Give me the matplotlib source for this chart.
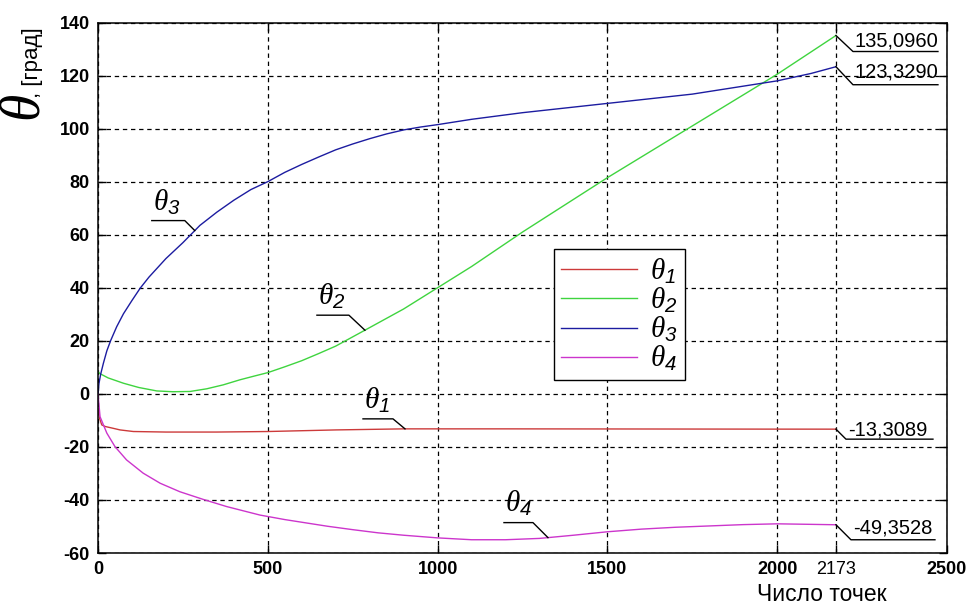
import numpy as np
import matplotlib
matplotlib.use("Agg")
from matplotlib import pyplot as plt
from matplotlib.transforms import ScaledTranslation

plt.rcParams['font.family'] = ['Liberation Sans', 'DejaVu Sans']
plt.rcParams['mathtext.fontset'] = 'custom'
plt.rcParams['mathtext.it'] = 'Liberation Serif:italic'
plt.rcParams['mathtext.rm'] = 'Liberation Serif'
plt.rcParams['mathtext.sf'] = 'Liberation Sans:italic'
plt.rcParams['axes.unicode_minus'] = False

# --- data ---
x1 = [0, 4, 11, 21, 45, 65, 104, 200, 350, 500, 700, 900, 1200, 1600, 2000, 2173]
th1 = [-5.5, -9.0, -11.7, -12.3, -13.0, -13.6, -14.2, -14.4, -14.4, -14.2, -13.6, -13.2, -13.2, -13.25, -13.3, -13.3089]

x2 = [0, 6, 30, 75, 120, 173, 220, 271, 320, 369, 418, 460, 500, 550, 600, 650, 700, 786, 900, 1000,
      1100, 1250, 1500, 1750, 2000, 2173]
th2 = [8.3, 7.6, 6.0, 4.0, 2.4, 1.1, 0.8, 0.9, 1.9, 3.4, 5.3, 6.7, 8.0, 10.2, 12.5, 15.2, 18.0, 24.0, 32.0, 40.0,
       48.0, 61.0, 81.5, 101.0, 120.5, 135.096]

x3 = [0, 3, 8, 16, 26, 37, 55, 75, 100, 124, 150, 200, 250, 300, 350, 400, 450, 500, 550,
      600, 650, 700, 750, 800, 850, 900, 950, 1000, 1100, 1250, 1500, 1750, 2000, 2100, 2173]
th3 = [0, 4, 7.5, 11.6, 16.2, 20, 25.3, 30.2, 35.2, 39.8, 44, 51, 57, 63.5, 68.5, 73, 77, 80, 83.5,
       86.5, 89.3, 92, 94.2, 96.2, 98, 99.5, 100.6, 101.5, 103.5, 106, 109.5, 113, 118, 120.8, 123.329]

x4 = [0, 6, 26, 50, 84, 133, 183, 241, 310, 379, 477, 550, 600, 675, 750, 825, 900, 1000, 1100, 1200,
      1300, 1400, 1500, 1600, 1700, 1800, 1900, 2000, 2100, 2173]
th4 = [0, -8.6, -14.8, -19.9, -24.9, -29.9, -33.7, -36.9, -39.8, -42.5, -45.7, -47.4, -48.4, -49.9, -51.2,
       -52.4, -53.3, -54.3, -55.0, -55.0, -54.5, -53.3, -52.0, -51.0, -50.3, -49.8, -49.3, -49.0, -49.2, -49.3528]

series = [(x1, th1), (x2, th2), (x3, th3), (x4, th4)]
colors = ['#cc3a3a', '#3fd43f', '#1c1ca0', '#cc35cc']
names = [r'$\theta_{\mathsf{1}}$', r'$\theta_{\mathsf{2}}$', r'$\theta_{\mathsf{3}}$', r'$\theta_{\mathsf{4}}$']
end_labels = ['-13,3089', '135,0960', '123,3290', '-49,3528']
curve_label_x = [904, 786, 285, 1325]

xticks = [0, 500, 1000, 1500, 2000, 2173, 2500]
yticks = list(range(-60, 141, 20))

fig = plt.figure(figsize=(9.7, 6.08), dpi=100)
ax = fig.add_axes([98 / 970, 1 - 553 / 608, 849 / 970, 530.5 / 608])

lines = []
for (xs, ys), c, n in zip(series, colors, names):
    ln, = ax.plot(xs, ys, color=c, lw=1.0, label=n)
    lines.append(ln)

ax.set_xlim(0, 2500)
ax.set_ylim(-60, 140)
ax.set_xticks(xticks)
ax.set_yticks(yticks)
ax.grid(True, color='black', linestyle=(0, (3.5, 3.0)), lw=0.9)
ax.tick_params(direction='in', length=6, width=1, top=True, right=True,
               labelsize=13, pad=6)
for t in ax.get_xticklabels() + ax.get_yticklabels():
    t.set_fontweight('bold')
ax.get_xticklabels()[5].set_fontweight('normal')
for s in ax.spines.values():
    s.set_linewidth(1.1)


def leader(x, y, pts_px):
    tr = fig.dpi_scale_trans + ScaledTranslation(x, y, ax.transData)
    px = [p[0] / 100 for p in pts_px]
    py = [p[1] / 100 for p in pts_px]
    ax.plot(px, py, transform=tr, color='black', lw=1.0, clip_on=False)
    return tr


# value labels at the right end of each curve
end_geom = [((10, -10), 97, 4), ((17, -16), 102, 5), ((17, -18), 102, 7), ((15, -15), 99, 6)]
for (xs, ys), lab, ((dx, dy), L, up) in zip(series, end_labels, end_geom):
    tr = leader(xs[-1], ys[-1], [(0, 0), (dx, dy), (L, dy)])
    ax.text((dx + 2) / 100, (dy + up) / 100, lab, transform=tr, fontsize=14.5,
            ha='left', va='baseline')

# curve name labels
name_geom = [((-12, 10), -42, 20), ((-16, 15), -48, 25), ((-10, 10), -43, 20), ((-15, 15), -44, 26)]
for (xs, ys), n, lx, ((dx, dy), L, up) in zip(series, names, curve_label_x, name_geom):
    ly = np.interp(lx, xs, ys)
    tr = leader(lx, ly, [(0, 0), (dx, dy), (L, dy)])
    ax.text((L + 1) / 100, up / 100, n, transform=tr, fontsize=21,
            ha='left', va='baseline')

leg = ax.legend(handles=lines, loc='upper left', bbox_to_anchor=(0.537, 0.573),
                borderaxespad=0, fontsize=21, handlelength=2.6, labelspacing=0.0,
                handletextpad=0.45, fancybox=False, framealpha=1, edgecolor='black',
                borderpad=0.25)
leg.get_frame().set_linewidth(1.0)

fig.text(26 / 970, 1 - 108 / 608, r'$\theta$', rotation=90, fontsize=40,
         ha='center', va='center')
fig.text(33 / 970, 1 - 98 / 608, ', [град]', rotation=90, fontsize=16,
         ha='center', va='bottom')
fig.text(757 / 970, 1 - 601 / 608, 'Число точек', fontsize=16.5, va='baseline')

fig.savefig('out.png', dpi=100)
